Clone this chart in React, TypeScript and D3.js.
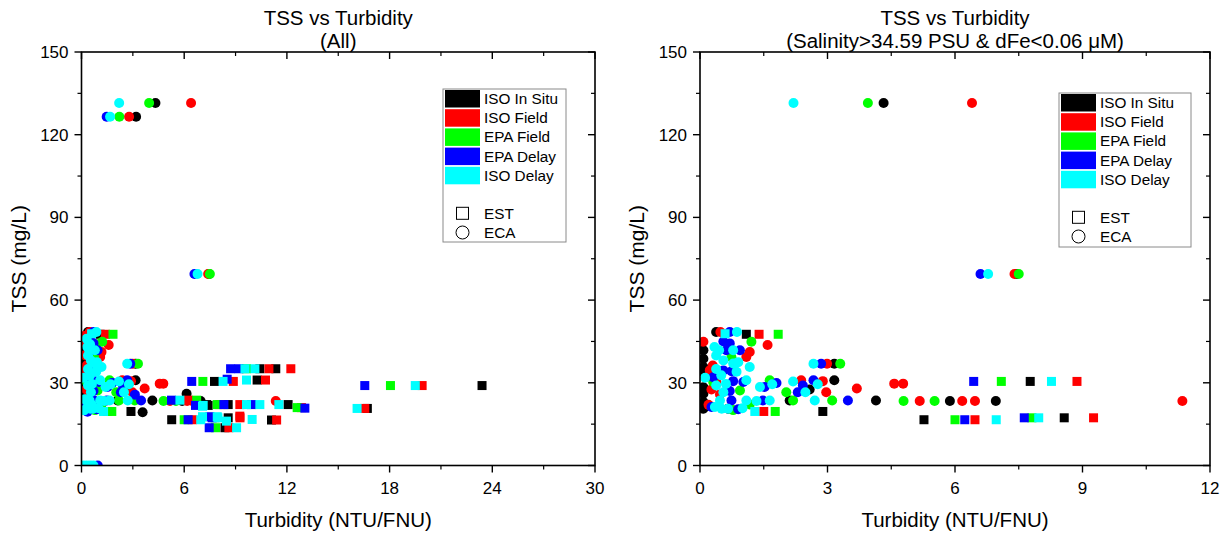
import React from 'react';
import * as d3 from 'd3';

const SERIES = ['ISO In Situ', 'ISO Field', 'EPA Field', 'EPA Delay', 'ISO Delay'];
const COLORS = ['#000000', '#ff0000', '#00ff00', '#0000ff', '#00ffff'];
const SHAPE_LABELS = ['EST', 'ECA'];
const Y_TICKS = [0, 30, 60, 90, 120, 150];
const X_TICKS_ALL = [0, 6, 12, 18, 24, 30];
const X_TICKS_SUB = [0, 3, 6, 9, 12];

// [series index, turbidity (NTU/FNU), TSS (mg/L)]
// Samples that pass Salinity>34.59 PSU & dFe<0.06 µM (shown in both panels)
const SUB_EST: [number, number, number][] = [
  [4, 0.59, 47.8], [0, 1.09, 47.6], [1, 1.39, 47.6], [2, 1.84, 47.6],
  [3, 6.44, 30.5], [2, 7.09, 30.5], [0, 7.77, 30.5], [4, 8.27, 30.5], [1, 8.87, 30.5],
  [0, 5.27, 16.6], [2, 6.0, 16.6], [3, 6.23, 16.6], [1, 6.47, 16.6], [4, 6.97, 16.6],
  [3, 7.63, 17.3], [2, 7.81, 17.3], [4, 7.97, 17.3], [0, 8.57, 17.3], [1, 9.26, 17.3],
  [4, 1.29, 19.6], [1, 1.5, 19.6], [2, 1.77, 19.6], [0, 2.89, 19.6],
];

const SUB_ECA: [number, number, number][] = [
  [4, 2.2, 131.5], [2, 3.95, 131.5], [0, 4.32, 131.5], [1, 6.4, 131.5],
  [0, 7.45, 69.5], [3, 6.6, 69.5], [4, 6.78, 69.5], [1, 7.4, 69.5], [2, 7.5, 69.5],
  [0, 0.38, 48.4], [1, 0.48, 48.4], [3, 0.7, 48.4], [4, 0.87, 48.4],
  [1, 0.08, 44.9], [2, 1.21, 44.9], [3, 0.55, 45], [4, 0.34, 43], [3, 0.7, 44.3],
  [1, 1.59, 43.7],
  [0, 0.08, 41.8], [1, 1.17, 41.2], [3, 0.62, 41.8], [3, 0.94, 41.8], [4, 0.45, 41.8], [4, 0.78, 41.8],
  [0, 0.08, 38.7], [1, 1.09, 39.4], [2, 0.74, 39.3], [4, 0.38, 39.9],
  [0, 3.16, 36.9], [1, 2.99, 36.9], [2, 3.3, 36.9], [3, 2.85, 36.9], [4, 2.67, 36.9],
  [4, 0.55, 38.1], [4, 0.78, 37], [4, 0.9, 37.5], [1, 0.3, 36.3],
  [0, 0.08, 35.7], [1, 0.23, 34.5], [3, 0.55, 34.5], [3, 0.74, 34.2], [4, 0.38, 35], [4, 0.86, 34],
  [4, 1.17, 35.7], [0, 0.08, 33.9],
  [3, 0.31, 32], [4, 0.12, 31.8], [4, 0.5, 32.7],
  [0, 3.16, 30.9], [1, 2.89, 30.6], [3, 2.67, 30.9], [1, 2.38, 30.9], [4, 2.19, 30.5], [2, 1.64, 30.9],
  [3, 1.8, 29.9], [4, 1.7, 29.5], [4, 2.77, 29.5], [4, 1.09, 30.9], [3, 1.02, 30.3], [3, 0.78, 30.6],
  [1, 0.38, 30.6], [2, 0.31, 30.3], [4, 0.61, 29.6], [4, 0.38, 29],
  [0, 0.08, 28.4], [3, 2.42, 29], [0, 2.58, 27.6], [2, 2.03, 26.6], [4, 2.48, 26.6], [1, 2.97, 26.6],
  [1, 3.69, 27.9], [4, 1.41, 28.5], [3, 1.52, 28.5], [2, 0.94, 27.2], [3, 0.7, 27], [1, 0.27, 27.6],
  [4, 0.55, 26.6], [3, 2.3, 26.6], [0, 0.08, 26], [1, 0.47, 25.8],
  [0, 2.11, 23.6], [2, 2.19, 23.6], [4, 2.7, 23.6], [2, 3.11, 23.6], [3, 3.48, 23.6], [0, 4.14, 23.6],
  [4, 1.09, 23.6], [4, 1.33, 23.4], [3, 1.48, 23.6], [4, 1.64, 23.6], [3, 0.74, 23.6], [4, 0.47, 23.6],
  [0, 0.08, 23],
  [2, 4.79, 23.4], [1, 5.17, 23.4], [2, 5.52, 23.4], [0, 5.88, 23.4], [1, 6.17, 23.4], [1, 6.47, 23.4],
  [0, 6.96, 23.4], [1, 11.35, 23.4],
  [1, 4.57, 29.7], [1, 4.78, 29.7],
  [2, 1.17, 22.1], [4, 0.35, 21.2], [3, 0.27, 21.2], [1, 0.2, 22],
  [0, 0.08, 20.6], [4, 0.51, 20.6], [4, 0.66, 20.6], [0, 0.66, 20.6], [2, 0.78, 20.1], [3, 0.9, 20.4],
  [4, 1.0, 20.8],
];

// Samples only in the "All" panel
const EXTRA_EST: [number, number, number][] = [
  [3, 16.55, 29], [2, 18.05, 29], [4, 19.5, 29], [1, 19.9, 29], [0, 23.4, 29],
  [4, 16.1, 20.7], [1, 16.55, 20.7], [0, 16.7, 20.7],
  [2, 12.6, 21], [1, 12.85, 21], [3, 13.05, 20.8],
  [3, 8.71, 35.1], [3, 9.2, 35.1], [2, 9.64, 35.1], [4, 9.55, 35.1], [4, 10.13, 35.1],
  [0, 10.42, 35.1], [1, 10.95, 35.1], [0, 11.35, 35.1], [1, 12.23, 35.1],
  [4, 9.64, 31], [0, 10.26, 31], [1, 10.75, 31], [3, 8.51, 31.3],
  [0, 7.31, 22.1], [2, 7.93, 22.1], [1, 8.08, 22.1], [3, 8.32, 22.1], [0, 8.57, 22.1], [1, 9.25, 22.1],
  [4, 9.64, 22.1], [3, 9.93, 22.1], [4, 10.42, 22.1], [4, 11.53, 22.1], [0, 12.07, 22.1], [4, 7.07, 21.5],
  [4, 7.07, 17.7], [3, 7.5, 17.7], [4, 7.93, 17.7], [1, 9.25, 17.9], [4, 8.47, 16.1], [4, 9.97, 16.7],
  [0, 11.1, 16.5], [1, 11.4, 16.5],
  [3, 7.46, 13.7], [2, 7.83, 13.7], [0, 8.38, 13.7], [1, 8.61, 13.7], [4, 9.06, 13.7],
  [3, 5.26, 23.7], [4, 5.75, 23.7], [1, 6.24, 23.7], [2, 6.73, 23.7],
  [3, 6.66, 21.8], [4, 7.11, 21.8], [0, 7.4, 21.8],
];

const EXTRA_ECA: [number, number, number][] = [
  [3, 1.47, 126.5], [4, 1.67, 126.5], [2, 2.21, 126.5], [1, 2.78, 126.5], [0, 3.19, 126.5],
  [4, 0.1, 0], [4, 0.3, 0], [4, 0.5, 0], [4, 0.7, 0], [3, 0.95, 0],
  [0, 3.57, 19.3], [3, 3.12, 25.7], [0, 6.14, 26],
  [1, 0.15, 47], [4, 0.3, 46], [1, 0.2, 40], [4, 0.5, 44], [2, 0.9, 44],
  [4, 0.2, 24], [4, 0.6, 22], [3, 0.35, 19.5], [4, 0.15, 20],
];

type Pt = [number, number, number];

interface PanelCfg {
  id: string;
  titles: string[];
  xMax: number;
  xTicks: number[];
  x0: number; x1: number; y0: number; y1: number;
  lx: number; ly: number; lw: number; lh: number;
  est: Pt[]; eca: Pt[];
}

const FONT = '"Liberation Sans", Arial, sans-serif';

function Panel({ c }: { c: PanelCfg }) {
  const x = d3.scaleLinear().domain([0, c.xMax]).range([c.x0, c.x1]);
  const y = d3.scaleLinear().domain([0, 150]).range([c.y1, c.y0]);
  const xStep = c.xTicks[1] - c.xTicks[0];
  const xMinor = d3.range(xStep / 2, c.xMax, xStep);
  const yMinor = d3.range(15, 150, 30);
  const cx = (c.x0 + c.x1) / 2;
  const cy = (c.y0 + c.y1) / 2;
  const SQ = 9;
  const R = 5;
  return (
    <g fontFamily={FONT}>
      <defs>
        <clipPath id={'clip-' + c.id}>
          <rect x={c.x0} y={c.y0} width={c.x1 - c.x0} height={c.y1 - c.y0} />
        </clipPath>
      </defs>
      <text x={cx} y={25} textAnchor="middle" fontSize={20.5} fill="#000">{c.titles[0]}</text>
      <text x={cx} y={48} textAnchor="middle" fontSize={20.5} fill="#000">{c.titles[1]}</text>
      <g clipPath={`url(#clip-${c.id})`}>
        {SERIES.map((s, si) => (
          <g key={s}>
            {c.est.filter(d => d[0] === si).map((d, i) => (
              <rect key={'s' + i} x={x(d[1]) - SQ / 2} y={y(d[2]) - SQ / 2} width={SQ} height={SQ} fill={COLORS[si]} />
            ))}
            {c.eca.filter(d => d[0] === si).map((d, i) => (
              <circle key={'c' + i} cx={x(d[1])} cy={y(d[2])} r={R} fill={COLORS[si]} />
            ))}
          </g>
        ))}
      </g>
      <rect x={c.x0} y={c.y0} width={c.x1 - c.x0} height={c.y1 - c.y0} fill="none" stroke="#000" strokeWidth={1.6} />
      {c.xTicks.map(t => (
        <g key={'xt' + t}>
          <line x1={x(t)} x2={x(t)} y1={c.y1} y2={c.y1 + 7} stroke="#000" strokeWidth={1.4} />
          <line x1={x(t)} x2={x(t)} y1={c.y0} y2={c.y0 + 7} stroke="#000" strokeWidth={1.4} />
          <text x={x(t)} y={c.y1 + 28} textAnchor="middle" fontSize={17}>{t}</text>
        </g>
      ))}
      {xMinor.map(t => (
        <g key={'xm' + t}>
          <line x1={x(t)} x2={x(t)} y1={c.y1} y2={c.y1 + 4} stroke="#000" strokeWidth={1.2} />
          <line x1={x(t)} x2={x(t)} y1={c.y0} y2={c.y0 + 4} stroke="#000" strokeWidth={1.2} />
        </g>
      ))}
      {Y_TICKS.map(t => (
        <g key={'yt' + t}>
          <line x1={c.x0 - 7} x2={c.x0} y1={y(t)} y2={y(t)} stroke="#000" strokeWidth={1.4} />
          <line x1={c.x1 - 7} x2={c.x1} y1={y(t)} y2={y(t)} stroke="#000" strokeWidth={1.4} />
          <text x={c.x0 - 13} y={y(t) + 6} textAnchor="end" fontSize={17}>{t}</text>
        </g>
      ))}
      {yMinor.map(t => (
        <g key={'ym' + t}>
          <line x1={c.x0 - 4} x2={c.x0} y1={y(t)} y2={y(t)} stroke="#000" strokeWidth={1.2} />
          <line x1={c.x1 - 4} x2={c.x1} y1={y(t)} y2={y(t)} stroke="#000" strokeWidth={1.2} />
        </g>
      ))}
      <text x={cx} y={527} textAnchor="middle" fontSize={20.5}>Turbidity (NTU/FNU)</text>
      <text transform={`translate(${c.x0 - 56},${cy}) rotate(-90)`} textAnchor="middle" fontSize={21}>TSS (mg/L)</text>
      <g>
        <rect x={c.lx} y={c.ly} width={c.lw} height={c.lh} fill="#fff" stroke="#8a8a8a" strokeWidth={1} />
        {SERIES.map((s, i) => (
          <g key={'lg' + s}>
            <rect x={c.lx + 2} y={c.ly + 1 + i * 19.2} width={35} height={17.5} fill={COLORS[i]} />
            <text x={c.lx + 41} y={c.ly + 1 + i * 19.2 + 14} fontSize={15.3}>{s}</text>
          </g>
        ))}
        <rect x={c.lx + 19.5 - 6} y={c.ly + 124.3 - 6} width={12} height={12} fill="none" stroke="#000" strokeWidth={1} />
        <text x={c.lx + 41} y={c.ly + 124.3 + 5.5} fontSize={15.3}>{SHAPE_LABELS[0]}</text>
        <circle cx={c.lx + 19.5} cy={c.ly + 143.5} r={6.5} fill="none" stroke="#000" strokeWidth={1} />
        <text x={c.lx + 41} y={c.ly + 143.5 + 5.5} fontSize={15.3}>{SHAPE_LABELS[1]}</text>
      </g>
    </g>
  );
}

export default function App() {
  const panels: PanelCfg[] = [
    {
      id: 'all', titles: ['TSS vs Turbidity', '(All)'], xMax: 30, xTicks: X_TICKS_ALL,
      x0: 81.5, x1: 595, y0: 52, y1: 465.5,
      lx: 443, ly: 89, lw: 123, lh: 153,
      est: [...SUB_EST, ...EXTRA_EST], eca: [...SUB_ECA, ...EXTRA_ECA],
    },
    {
      id: 'sub', titles: ['TSS vs Turbidity', '(Salinity>34.59 PSU & dFe<0.06 \u03bcM)'], xMax: 12, xTicks: X_TICKS_SUB,
      x0: 700, x1: 1210, y0: 52, y1: 465.5,
      lx: 1059, ly: 93, lw: 132, lh: 154,
      est: SUB_EST, eca: SUB_ECA,
    },
  ];
  return (
    <svg width={1226} height={536} style={{ position: 'absolute', left: 0, top: 0, background: '#fff' }}>
      <rect width={1226} height={536} fill="#fff" />
      {panels.map(p => <Panel key={p.id} c={p} />)}
    </svg>
  );
}
